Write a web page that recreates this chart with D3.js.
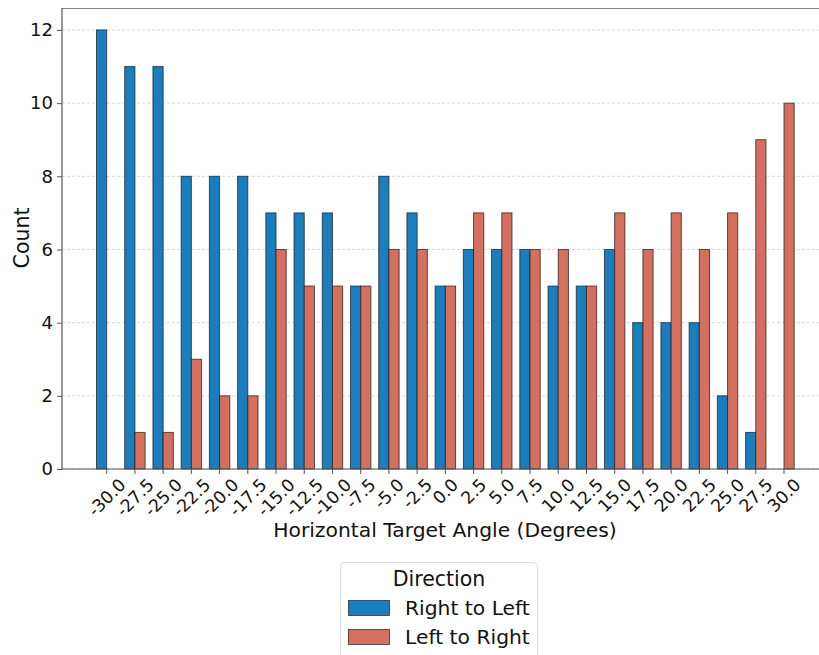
<!DOCTYPE html>
<html>
<head>
<meta charset="utf-8">
<script src="https://cdn.jsdelivr.net/npm/d3@7"></script>
<style>
  html, body { margin: 0; padding: 0; background: #fff; }
  svg { display: block; font-family: "DejaVu Sans", sans-serif; }
</style>
</head>
<body>
<svg id="chart" width="819" height="655"></svg>
<script>
// Angle bins (degrees) and counts per travel direction
const angles = ["-30.0","-27.5","-25.0","-22.5","-20.0","-17.5","-15.0","-12.5","-10.0","-7.5","-5.0","-2.5","0.0","2.5","5.0","7.5","10.0","12.5","15.0","17.5","20.0","22.5","25.0","27.5","30.0"];
const rightToLeft = [12,11,11,8,8,8,7,7,7,5,8,7,5,6,6,6,5,5,6,4,4,4,2,1,0];
const leftToRight = [0,1,1,3,2,2,6,5,5,5,6,6,5,7,7,6,6,5,7,6,7,6,7,9,10];
const seriesNames = ["Right to Left", "Left to Right"];
const seriesColors = ["#1a7dbd", "#d5705f"];
const yTicks = [0, 2, 4, 6, 8, 10, 12];

const svg = d3.select("#chart");
const x0 = 62, x1 = 860, y0 = 469, y1 = 8; // plot runs past the right edge

// Category centres: first at 106.7, last at 784
const first = 106.7, last = 784;
const step = (last - first) / (angles.length - 1);
const x = d3.scaleBand()
  .domain(angles)
  .range([first - step / 2, last + step / 2])
  .paddingInner(0).paddingOuter(0);
const y = d3.scaleLinear().domain([0, 12.6]).range([y0, y1]);
const barW = 10.2;

// Horizontal dashed grid
svg.append("g").selectAll("line").data(yTicks).join("line")
  .attr("x1", x0).attr("x2", x1)
  .attr("y1", d => y(d)).attr("y2", d => y(d))
  .attr("stroke", "#cfcfcf").attr("stroke-width", 0.8)
  .attr("stroke-dasharray", "3,2");

// Bars
const series = [rightToLeft, leftToRight];
series.forEach((vals, si) => {
  svg.append("g").selectAll("rect").data(vals).join("rect")
    .attr("x", (d, i) => x(angles[i]) + x.bandwidth() / 2 + (si === 0 ? -barW : 0))
    .attr("width", barW)
    .attr("y", d => y(d))
    .attr("height", d => y(0) - y(d))
    .attr("fill", seriesColors[si])
    .attr("stroke", "#222")
    .attr("stroke-opacity", 0.75)
    .attr("stroke-width", 1);
});

// Spines
svg.append("line").attr("x1", x0).attr("x2", x1).attr("y1", y1 + 0.5).attr("y2", y1 + 0.5)
  .attr("stroke", "#888").attr("stroke-width", 1.2);
svg.append("line").attr("x1", x0).attr("x2", x0).attr("y1", y1).attr("y2", y0)
  .attr("stroke", "#555").attr("stroke-width", 1.2);
svg.append("line").attr("x1", x0).attr("x2", x1).attr("y1", y0).attr("y2", y0)
  .attr("stroke", "#555").attr("stroke-width", 1.2);

// Y axis
const yAxis = d3.axisLeft(y).tickValues(yTicks).tickSize(5).tickPadding(4);
const gy = svg.append("g").attr("transform", `translate(${x0},0)`).call(yAxis);
gy.select(".domain").remove();
gy.selectAll(".tick line").attr("stroke", "#555");
gy.selectAll("text").attr("font-size", 18).attr("fill", "#111")
  .attr("font-family", "DejaVu Sans, sans-serif");

// X axis with rotated labels
const xAxis = d3.axisBottom(x).tickSize(5).tickPadding(0);
const gx = svg.append("g").attr("transform", `translate(0,${y0})`).call(xAxis);
gx.select(".domain").remove();
gx.selectAll(".tick line").attr("stroke", "#555");
gx.selectAll("text")
  .attr("font-size", 17.3).attr("fill", "#111")
  .attr("font-family", "DejaVu Sans, sans-serif")
  .attr("text-anchor", "middle")
  .attr("dy", "0.35em")
  .attr("y", 0)
  .attr("transform", function () {
    const w = this.getComputedTextLength();
    const c = (w + 16) * 0.7071 / 2 + 7;
    return `translate(0,${c}) rotate(-45)`;
  });

// Axis titles
svg.append("text").attr("x", 445).attr("y", 537).attr("text-anchor", "middle")
  .attr("font-size", 20.3).attr("fill", "#111").text("Horizontal Target Angle (Degrees)");
svg.append("text").attr("transform", "translate(29,238) rotate(-90)").attr("text-anchor", "middle")
  .attr("font-size", 20.5).attr("fill", "#111").text("Count");

// Legend
const lg = svg.append("g");
lg.append("rect").attr("x", 340.5).attr("y", 562.5).attr("width", 197).attr("height", 100)
  .attr("rx", 4).attr("fill", "#fff").attr("stroke", "#ddd");
lg.append("text").attr("x", 439).attr("y", 586).attr("text-anchor", "middle")
  .attr("font-size", 20.5).attr("fill", "#111").text("Direction");
seriesNames.forEach((name, i) => {
  const yy = 600 + i * 29;
  lg.append("rect").attr("x", 348.5).attr("y", yy + 0.5).attr("width", 41).attr("height", 15)
    .attr("fill", seriesColors[i]).attr("stroke", "#333").attr("stroke-width", 0.8);
  lg.append("text").attr("x", 405).attr("y", yy + 15).attr("font-size", 20.3)
    .attr("fill", "#111").text(name);
});
</script>
</body>
</html>
